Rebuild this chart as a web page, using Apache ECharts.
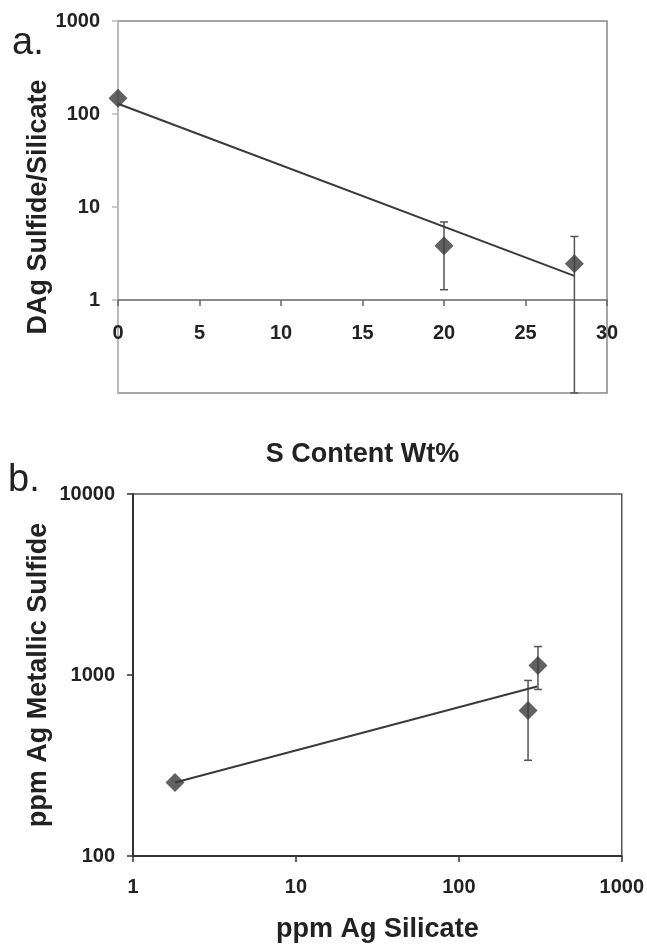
<!DOCTYPE html>
<html>
<head>
<meta charset="utf-8">
<script src="https://cdn.jsdelivr.net/npm/echarts@6.0.0/dist/echarts.min.js"></script>
<style>
html,body{margin:0;padding:0;background:#fff;}
#chart{width:647px;height:944px;}
</style>
</head>
<body>
<div id="chart"></div>
<script>
// ---- Panel a: D(Ag) sulfide/silicate vs S content ----
const sContent = [0, 20, 28];
const dAg = [148, 3.83, 2.46];
const dAgErrHigh = [null, 6.9, 4.82];
const dAgErrLow = [null, 1.29, 0.1];
const trendAX = [0, 28];
const trendAY = [129, 1.82];
const aYTicks = [1, 10, 100, 1000];

// ---- Panel b: ppm Ag metallic sulfide vs ppm Ag silicate ----
const agSilicate = [1.81, 266, 306];
const agSulfide = [255, 637, 1128];
const sulfErrHigh = [null, 933, 1436];
const sulfErrLow = [null, 338, 832];
const trendBX = [1.81, 302];
const trendBY = [255, 864];

const FONT = 'Liberation Sans, Arial, sans-serif';
const ink = '#3a3a3a';

function zip(xs, ys) { return xs.map((x, i) => [x, ys[i]]); }
function errData(xs, lo, hi) {
  const out = [];
  xs.forEach((x, i) => { if (lo[i] != null && hi[i] != null) out.push([x, lo[i], hi[i]]); });
  return out;
}
function errRender(color) {
  return function (params, api) {
    const x = api.value(0);
    const lo = api.coord([x, api.value(1)]);
    const hi = api.coord([x, api.value(2)]);
    const cap = 4;
    const style = { stroke: color, lineWidth: 1.5 };
    return {
      type: 'group',
      children: [
        { type: 'line', shape: { x1: lo[0], y1: lo[1], x2: hi[0], y2: hi[1] }, style },
        { type: 'line', shape: { x1: hi[0] - cap, y1: hi[1], x2: hi[0] + cap, y2: hi[1] }, style },
        { type: 'line', shape: { x1: lo[0] - cap, y1: lo[1], x2: lo[0] + cap, y2: lo[1] }, style }
      ]
    };
  };
}
const plain = v => String(Math.round(v));

const tickLabel = { fontFamily: FONT, fontWeight: 'bold', fontSize: 20, color: '#222' };
const titleText = { fontFamily: FONT, fontWeight: 'bold', fontSize: 27, color: '#222' };

const chart = echarts.init(document.getElementById('chart'), null, { renderer: 'canvas' });
chart.setOption({
  backgroundColor: '#fff',
  animation: false,
  grid: [
    { left: 118, right: 40, top: 21, height: 372, show: true, borderColor: '#888', borderWidth: 1.5, containLabel: false },
    { left: 133, right: 24, top: 494, height: 363, show: true, borderColor: '#555', borderWidth: 1.5, containLabel: false }
  ],
  xAxis: [
    {
      gridIndex: 0, type: 'value', min: 0, max: 30, interval: 5,
      position: 'bottom', offset: -93,
      axisLine: { show: true, onZero: false, lineStyle: { color: '#666', width: 1.5 } },
      axisTick: { show: true, inside: false, length: 6, lineStyle: { color: '#666', width: 1.5 } },
      axisLabel: Object.assign({ margin: 23, formatter: plain }, tickLabel),
      splitLine: { show: false },
      name: 'S Content Wt%', nameLocation: 'middle', nameGap: 141, nameMoveOverlap: false, nameTextStyle: titleText
    },
    {
      gridIndex: 1, type: 'log', logBase: 10, min: 1, max: 1000,
      axisLine: { show: true, onZero: false, lineStyle: { color: '#333', width: 2 } },
      axisTick: { show: true, length: 6, lineStyle: { color: '#333', width: 1.5 } },
      axisLabel: Object.assign({ margin: 21, formatter: plain }, tickLabel),
      splitLine: { show: false },
      minorTick: { show: false },
      name: 'ppm Ag Silicate', nameLocation: 'middle', nameGap: 60, nameMoveOverlap: false, nameTextStyle: titleText
    }
  ],
  yAxis: [
    {
      gridIndex: 0, type: 'log', logBase: 10, min: 0.1, max: 1000,
      axisLine: { show: true, onZero: false, lineStyle: { color: '#bbb', width: 2 } },
      axisTick: { show: true, length: 6, customValues: aYTicks, lineStyle: { color: '#bbb', width: 1.5 } },
      axisLabel: Object.assign({
        margin: 18,
        formatter: v => (aYTicks.indexOf(Math.round(v * 1000) / 1000) >= 0 ? String(Math.round(v)) : '')
      }, tickLabel),
      splitLine: { show: false },
      name: 'DAg Sulfide/Silicate', nameLocation: 'middle', nameGap: 66, nameMoveOverlap: false, nameTextStyle: titleText
    },
    {
      gridIndex: 1, type: 'log', logBase: 10, min: 100, max: 10000,
      axisLine: { show: true, onZero: false, lineStyle: { color: '#333', width: 2 } },
      axisTick: { show: true, length: 6, lineStyle: { color: '#333', width: 1.5 } },
      axisLabel: Object.assign({ margin: 18, formatter: plain }, tickLabel),
      splitLine: { show: false },
      name: 'ppm Ag Metallic Sulfide', nameLocation: 'middle', nameGap: 81, nameMoveOverlap: false, nameTextStyle: titleText
    }
  ],
  graphic: [
    { type: 'text', left: 12, top: 25, style: { text: 'a.', fontFamily: FONT, fontSize: 38, fill: '#222' } },
    { type: 'text', left: 8, top: 462, style: { text: 'b.', fontFamily: FONT, fontSize: 38, fill: '#222' } }
  ],
  series: [
    {
      type: 'custom', xAxisIndex: 0, yAxisIndex: 0, z: 2,
      renderItem: errRender('#555'),
      data: errData(sContent, dAgErrLow, dAgErrHigh)
    },
    {
      type: 'line', xAxisIndex: 0, yAxisIndex: 0, z: 3,
      data: zip(trendAX, trendAY), showSymbol: false, symbol: 'none',
      lineStyle: { color: ink, width: 2 }
    },
    {
      type: 'scatter', xAxisIndex: 0, yAxisIndex: 0, z: 4,
      data: zip(sContent, dAg), symbol: 'diamond', symbolSize: [19, 19],
      itemStyle: { color: ink }
    },
    {
      type: 'custom', xAxisIndex: 1, yAxisIndex: 1, z: 2,
      renderItem: errRender('#555'),
      data: errData(agSilicate, sulfErrLow, sulfErrHigh)
    },
    {
      type: 'line', xAxisIndex: 1, yAxisIndex: 1, z: 3,
      data: zip(trendBX, trendBY), showSymbol: false, symbol: 'none',
      lineStyle: { color: ink, width: 2 }
    },
    {
      type: 'scatter', xAxisIndex: 1, yAxisIndex: 1, z: 4,
      data: zip(agSilicate, agSulfide), symbol: 'diamond', symbolSize: [19, 19],
      itemStyle: { color: ink }
    }
  ]
});
</script>
</body>
</html>
